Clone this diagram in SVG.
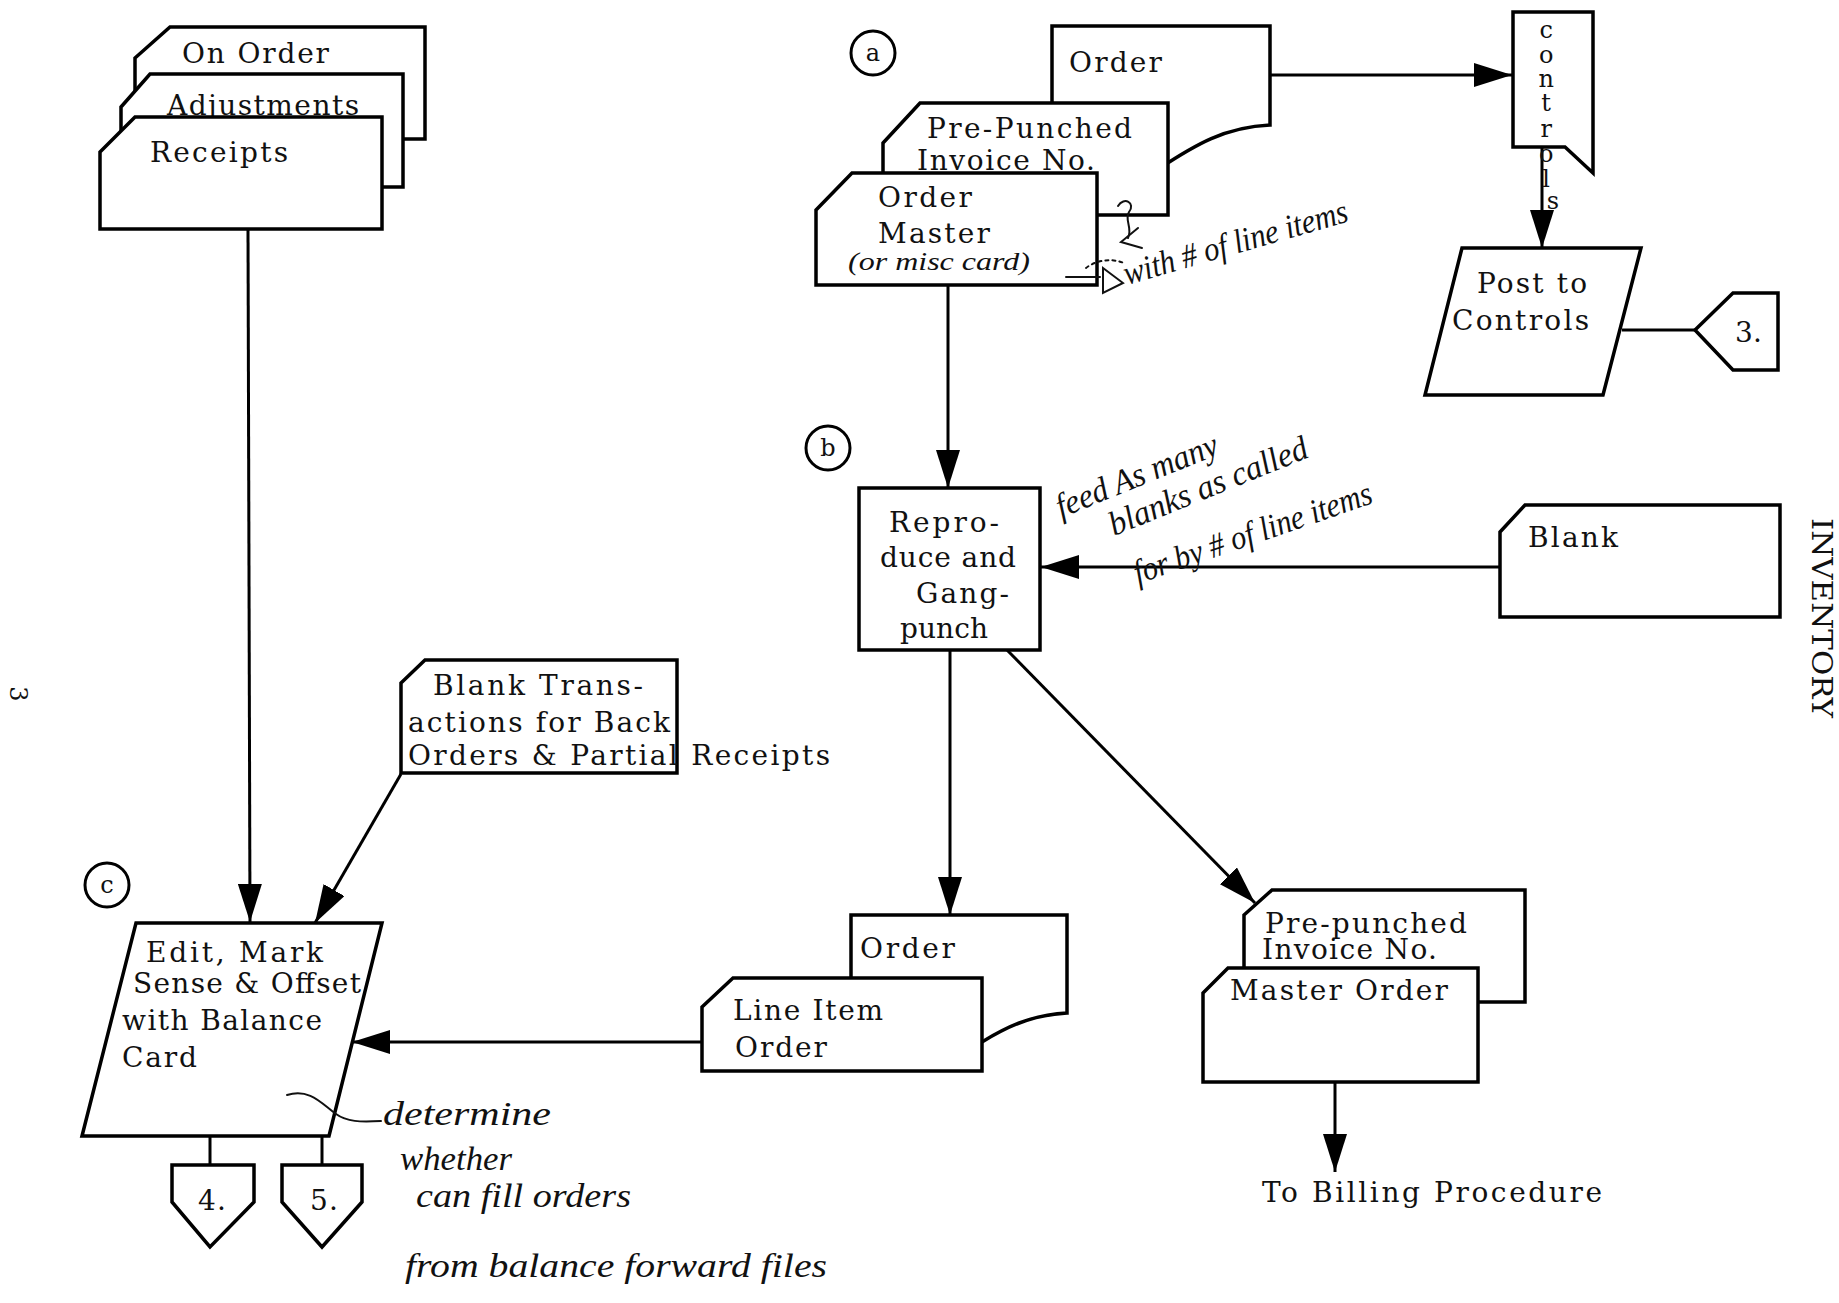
<svg xmlns="http://www.w3.org/2000/svg" width="1839" height="1303" viewBox="0 0 1839 1303">
  <defs>
    <style>
      .shape { fill: #fff; stroke: #000; stroke-width: 3.5; stroke-linejoin: miter; }
      .line { fill: none; stroke: #000; stroke-width: 3; }
      .t { font-family: "DejaVu Serif", "Liberation Serif", serif; font-size: 28px; fill: #111; }
      .hand { font-family: "Liberation Serif", "DejaVu Serif", serif; font-style: italic; font-size: 34px; fill: #111; }
      .ink { fill: none; stroke: #111; stroke-width: 2; stroke-linecap: round; }
      .circ { fill: none; stroke: #000; stroke-width: 3; }
    </style>
    <marker id="arrow" viewBox="0 0 38 24" refX="38" refY="12" markerWidth="38" markerHeight="24" markerUnits="userSpaceOnUse" orient="auto">
      <path d="M0,0 L38,12 L0,24 Z" fill="#000"/>
    </marker>
  </defs>
  <rect width="1839" height="1303" fill="#fff"/>

  <!-- page number and side heading, set sideways -->
  <text class="t" transform="translate(10,694) rotate(90)" text-anchor="middle" style="font-size:24px">3</text>
  <text class="t" transform="translate(1812,518) rotate(90)" style="font-size:28px" textLength="200" lengthAdjust="spacingAndGlyphs">INVENTORY</text>

  <!-- connectors -->
  <g id="connectors">
    <line class="line" x1="248" y1="229" x2="250" y2="922" marker-end="url(#arrow)"/>
    <line class="line" x1="1270" y1="75" x2="1512" y2="75" marker-end="url(#arrow)"/>
    <line class="line" x1="1542" y1="147" x2="1542" y2="248" marker-end="url(#arrow)"/>
    <line class="line" x1="1622" y1="330" x2="1695" y2="330"/>
    <line class="line" x1="948" y1="285" x2="948" y2="488" marker-end="url(#arrow)"/>
    <line class="line" x1="1500" y1="567" x2="1041" y2="567" marker-end="url(#arrow)"/>
    <line class="line" x1="950" y1="650" x2="950" y2="915" marker-end="url(#arrow)"/>
    <line class="line" x1="1007" y1="650" x2="1255" y2="903" marker-end="url(#arrow)"/>
    <line class="line" x1="702" y1="1042" x2="352" y2="1042" marker-end="url(#arrow)"/>
    <line class="line" x1="401" y1="774" x2="315" y2="923" marker-end="url(#arrow)"/>
    <line class="line" x1="1335" y1="1082" x2="1335" y2="1172" marker-end="url(#arrow)"/>
    <line class="line" x1="210" y1="1136" x2="210" y2="1165"/>
    <line class="line" x1="322" y1="1136" x2="322" y2="1165"/>
  </g>

  <!-- transaction card deck -->
  <g id="on-order">
    <path class="shape" d="M135,58 L170,27 L425,27 L425,139 L135,139 Z"/>
    <text class="t" x="182" y="63" textLength="147" lengthAdjust="spacing">On Order</text>
  </g>
  <g id="adjustments">
    <path class="shape" d="M121,107 L150,74 L403,74 L403,187 L121,187 Z"/>
    <text class="t" x="167" y="115" textLength="192" lengthAdjust="spacing">Adjustments</text>
  </g>
  <g id="receipts">
    <path class="shape" d="M100,152 L135,117 L382,117 L382,229 L100,229 Z"/>
    <text class="t" x="150" y="162" textLength="138" lengthAdjust="spacing">Receipts</text>
  </g>

  <!-- step a -->
  <g id="label-a">
    <circle class="circ" cx="873" cy="53" r="22"/>
    <text class="t" x="873" y="61" text-anchor="middle" style="font-size:24px">a</text>
  </g>
  <g id="order-doc">
    <path class="shape" d="M1052,26 L1270,26 L1270,125 C1225,127 1195,145 1160,168 L1052,168 Z"/>
    <text class="t" x="1069" y="72" textLength="93" lengthAdjust="spacing">Order</text>
  </g>
  <g id="pre-punched-top">
    <path class="shape" d="M883,143 L920,103 L1168,103 L1168,215 L883,215 Z"/>
    <text class="t" x="927" y="138" textLength="205" lengthAdjust="spacing">Pre-Punched</text>
    <text class="t" x="917" y="170" textLength="178" lengthAdjust="spacing">Invoice No.</text>
  </g>
  <g id="order-master">
    <path class="shape" d="M816,210 L852,173 L1097,173 L1097,285 L816,285 Z"/>
    <text class="t" x="878" y="207" textLength="94" lengthAdjust="spacing">Order</text>
    <text class="t" x="878" y="243" textLength="112" lengthAdjust="spacing">Master</text>
    <text class="hand" x="848" y="270" style="font-size:26px" textLength="182" lengthAdjust="spacingAndGlyphs">(or misc card)</text>
  </g>

  <!-- pencil note on line item count -->
  <g id="note-line-items">
    <path class="ink" d="M1118,206 C1124,196 1136,203 1129,212 C1124,220 1133,228 1128,238"/>
    <path class="ink" d="M1138,228 L1121,242 L1142,248"/>
    <path class="ink" d="M1066,277 L1100,277"/>
    <path class="ink" d="M1103,268 L1123,283 L1103,293 Z"/>
    <path class="ink" d="M1086,268 C1096,260 1112,258 1124,263" stroke-dasharray="3 4"/>
    <text class="hand" transform="translate(1127,285) rotate(-16)" textLength="232" lengthAdjust="spacingAndGlyphs">with # of line items</text>
  </g>

  <!-- controls -->
  <g id="controls">
    <path class="shape" d="M1513,12 L1593,12 L1593,173 L1565,147 L1513,147 Z"/>
    <text class="t" text-anchor="middle" style="font-size:24px">
      <tspan x="1550" y="38">c</tspan>
      <tspan x="1550" y="63">o</tspan>
      <tspan x="1550" y="87">n</tspan>
      <tspan x="1550" y="111">t</tspan>
      <tspan x="1550" y="137">r</tspan>
      <tspan x="1550" y="162">o</tspan>
      <tspan x="1550" y="187">l</tspan>
      <tspan x="1553" y="209">s</tspan>
    </text>
  </g>
  <g id="post-to-controls">
    <path class="shape" d="M1462,248 L1641,248 L1603,395 L1425,395 Z"/>
    <text class="t" x="1477" y="293" textLength="110" lengthAdjust="spacing">Post to</text>
    <text class="t" x="1452" y="330" textLength="137" lengthAdjust="spacing">Controls</text>
  </g>
  <g id="connector-3">
    <path class="shape" d="M1695,330 L1733,293 L1778,293 L1778,370 L1733,370 Z"/>
    <text class="t" x="1735" y="342" textLength="27" lengthAdjust="spacing">3.</text>
  </g>

  <!-- step b -->
  <g id="label-b">
    <circle class="circ" cx="828" cy="448" r="22"/>
    <text class="t" x="828" y="456" text-anchor="middle" style="font-size:24px">b</text>
  </g>
  <g id="reproduce">
    <rect class="shape" x="859" y="488" width="181" height="162"/>
    <text class="t" x="889" y="532" textLength="110" lengthAdjust="spacing">Repro-</text>
    <text class="t" x="880" y="567" textLength="136" lengthAdjust="spacing">duce and</text>
    <text class="t" x="916" y="603" textLength="93" lengthAdjust="spacing">Gang-</text>
    <text class="t" x="900" y="638" textLength="88" lengthAdjust="spacing">punch</text>
  </g>
  <g id="blank">
    <path class="shape" d="M1500,532 L1525,505 L1780,505 L1780,617 L1500,617 Z"/>
    <text class="t" x="1528" y="547" textLength="90" lengthAdjust="spacing">Blank</text>
  </g>
  <g id="note-feed">
    <text class="hand" transform="translate(1061,518) rotate(-22)" textLength="172" lengthAdjust="spacingAndGlyphs">feed As many</text>
    <text class="hand" transform="translate(1114,536) rotate(-22)" textLength="212" lengthAdjust="spacingAndGlyphs">blanks as called</text>
    <text class="hand" transform="translate(1138,584) rotate(-19)" textLength="250" lengthAdjust="spacingAndGlyphs">for by # of line items</text>
  </g>

  <!-- outputs of reproducer -->
  <g id="order-doc-2">
    <path class="shape" d="M851,915 L1067,915 L1067,1013 C1030,1015 1005,1028 982,1042 L851,1042 Z"/>
    <text class="t" x="860" y="958" textLength="95" lengthAdjust="spacing">Order</text>
  </g>
  <g id="line-item-order">
    <path class="shape" d="M702,1007 L733,978 L982,978 L982,1071 L702,1071 Z"/>
    <text class="t" x="733" y="1020" textLength="150" lengthAdjust="spacing">Line Item</text>
    <text class="t" x="735" y="1057" textLength="92" lengthAdjust="spacing">Order</text>
  </g>
  <g id="pre-punched-bottom">
    <path class="shape" d="M1244,915 L1272,890 L1525,890 L1525,1002 L1244,1002 Z"/>
    <text class="t" x="1265" y="933" textLength="202" lengthAdjust="spacing">Pre-punched</text>
    <text class="t" x="1262" y="959" textLength="175" lengthAdjust="spacing">Invoice No.</text>
  </g>
  <g id="master-order">
    <path class="shape" d="M1203,993 L1228,968 L1478,968 L1478,1082 L1203,1082 Z"/>
    <text class="t" x="1230" y="1000" textLength="218" lengthAdjust="spacing">Master Order</text>
  </g>
  <g id="to-billing">
    <text class="t" x="1262" y="1202" textLength="340" lengthAdjust="spacing">To Billing Procedure</text>
  </g>

  <!-- step c -->
  <g id="blank-transactions">
    <path class="shape" d="M401,683 L425,660 L677,660 L677,773 L401,773 Z"/>
    <text class="t" x="433" y="695" textLength="210" lengthAdjust="spacing">Blank Trans-</text>
    <text class="t" x="408" y="732" textLength="262" lengthAdjust="spacing">actions for Back</text>
    <text class="t" x="408" y="765" textLength="422" lengthAdjust="spacing">Orders &amp; Partial Receipts</text>
  </g>
  <g id="label-c">
    <circle class="circ" cx="107" cy="885" r="22"/>
    <text class="t" x="107" y="893" text-anchor="middle" style="font-size:24px">c</text>
  </g>
  <g id="edit">
    <path class="shape" d="M136,923 L382,923 L329,1136 L82,1136 Z"/>
    <text class="t" x="146" y="962" textLength="177" lengthAdjust="spacing">Edit, Mark</text>
    <text class="t" x="133" y="993" textLength="228" lengthAdjust="spacing">Sense &amp; Offset</text>
    <text class="t" x="122" y="1030" textLength="200" lengthAdjust="spacing">with Balance</text>
    <text class="t" x="122" y="1067" textLength="75" lengthAdjust="spacing">Card</text>
  </g>
  <g id="connector-4">
    <path class="shape" d="M172,1165 L254,1165 L254,1202 L210,1247 L172,1202 Z"/>
    <text class="t" x="198" y="1210" textLength="28" lengthAdjust="spacing">4.</text>
  </g>
  <g id="connector-5">
    <path class="shape" d="M282,1165 L362,1165 L362,1202 L322,1247 L282,1202 Z"/>
    <text class="t" x="310" y="1210" textLength="28" lengthAdjust="spacing">5.</text>
  </g>
  <g id="note-determine">
    <path class="ink" d="M287,1095 C310,1088 322,1104 336,1114 C347,1122 360,1122 381,1121"/>
    <text class="hand" x="383" y="1125" textLength="168" lengthAdjust="spacingAndGlyphs">determine</text>
    <text class="hand" x="400" y="1170" textLength="112" lengthAdjust="spacingAndGlyphs">whether</text>
    <text class="hand" x="416" y="1207" textLength="215" lengthAdjust="spacingAndGlyphs">can fill orders</text>
    <text class="hand" x="405" y="1277" textLength="422" lengthAdjust="spacingAndGlyphs">from balance forward files</text>
  </g>
</svg>
